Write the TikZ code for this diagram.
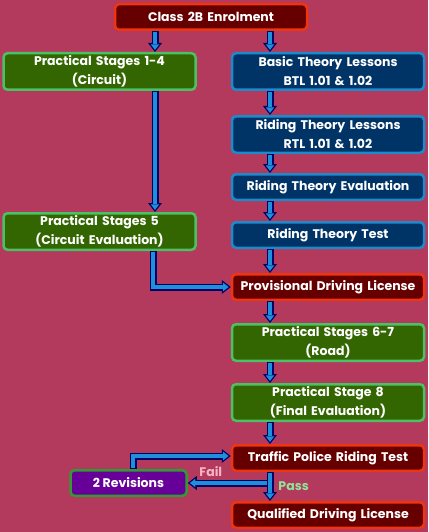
\documentclass[tikz,border=0pt]{standalone}
\usepackage{fontspec}
\setmainfont{Poppins}
\usepackage{tikz}
\usetikzlibrary{arrows.meta, positioning, calc}
\definecolor{PageRose}{HTML}{B33A5C}
\definecolor{LicenceRed}{HTML}{660000}
\definecolor{LicenceEdge}{HTML}{F03410}
\definecolor{StageGreen}{HTML}{336600}
\definecolor{StageEdge}{HTML}{4CC064}
\definecolor{TheoryBlue}{HTML}{003366}
\definecolor{TheoryEdge}{HTML}{1E8ACC}
\definecolor{RevPurple}{HTML}{660099}
\definecolor{RevEdge}{HTML}{339933}
\definecolor{ArrowFill}{HTML}{1E8FD8}
\definecolor{ArrowNavy}{HTML}{000066}
\definecolor{FailPink}{HTML}{F7B3C4}
\definecolor{PassGreen}{HTML}{8FE39A}

\begin{document}
\begin{tikzpicture}[font=\fontsize{12.5}{19}\selectfont\bfseries, every node/.style={text=white}]
    \tikzstyle{box} = [rectangle, rounded corners=4pt, line width=2.5pt, text width=186pt, inner xsep=3pt, inner ysep=1pt, align=center, minimum height=25.5pt]
    \tikzstyle{twoline} = [minimum height=36.5pt]
    \tikzstyle{licence} = [box, draw=LicenceEdge, fill=LicenceRed]
    \tikzstyle{stage} = [box, twoline, draw=StageEdge, fill=StageGreen]
    \tikzstyle{theory} = [box, draw=TheoryEdge, fill=TheoryBlue]
    \tikzstyle{revbox} = [rectangle, rounded corners=4pt, line width=2.5pt, draw=RevEdge, fill=RevPurple, minimum width=116pt, minimum height=25.5pt, inner ysep=1pt]
    \tikzstyle{flow} = [draw=ArrowFill, line width=4.3pt, line join=miter, shorten >=2.1pt, shorten <=1.2pt,
        -{Triangle[width=8.7pt, length=5.6pt, line width=0pt]},
        preaction={draw=ArrowNavy, line width=7pt, line join=miter, shorten >=0pt, shorten <=0pt,
        -{Triangle[width=14pt, length=9pt, line width=0pt]}}]

    % page
    \fill[PageRose] (0,0) rectangle (428pt,-532pt);
    \useasboundingbox (0,0) rectangle (428pt,-532pt);

    % arrow columns
    \coordinate (lx) at (155pt,0);
    \coordinate (rx) at (270pt,0);
    \coordinate (bx) at (153pt,0);
    \coordinate (vx) at (133pt,0);

    \node [licence, anchor=north] (enrol) at (211pt,-3pt) {Class 2B Enrolment};
    \node [theory, twoline, anchor=north] (basic) at (328pt,-52pt) {Basic Theory Lessons\\BTL 1.01 \& 1.02};
    \node [stage, left=34pt of basic] (p14) {Practical Stages 1-4\\(Circuit)};
    \node [theory, twoline, below=24pt of basic] (riding) {Riding Theory Lessons\\RTL 1.01 \& 1.02};
    \node [theory, below=19pt of riding] (eval) {Riding Theory Evaluation};
    \node [theory, below=20pt of eval] (test) {Riding Theory Test};
    \node [stage, below=121pt of p14] (p5) {Practical Stages 5\\(Circuit Evaluation)};
    \node [licence, below=24pt of test] (prov) {Provisional Driving License};
    \node [stage, below=22pt of prov] (p67) {Practical Stages 6-7\\(Road)};
    \node [stage, below=21pt of p67] (p8) {Practical Stage 8\\(Final Evaluation)};
    \node [licence, below=22pt of p8] (traffic) {Traffic Police Riding Test};
    \node [revbox, below left=-3pt and 43pt of traffic] (rev) {2 Revisions};
    \node [licence, below=29pt of traffic] (qual) {Qualified Driving License};

    \path [flow] (enrol.south -| lx) -- (p14.north -| lx);
    \path [flow] (enrol.south -| rx) -- (basic.north -| rx);
    \path [flow] (basic.south -| rx) -- (riding.north -| rx);
    \path [flow] (riding.south -| rx) -- (eval.north -| rx);
    \path [flow] (eval.south -| rx) -- (test.north -| rx);
    \path [flow] (test.south -| rx) -- (prov.north -| rx);
    \path [flow] (p14.south -| lx) -- (p5.north -| lx);
    \path [flow] (p5.south -| bx) |- (prov.west);
    \path [flow] (prov.south -| rx) -- (p67.north -| rx);
    \path [flow] (p67.south -| rx) -- (p8.north -| rx);
    \path [flow] (p8.south -| rx) -- (traffic.north -| rx);
    \path [flow] (rev.north -| vx) |- ([yshift=2pt]traffic.west);
    \path [flow] (traffic.south -| rx) |- node [pos=0.86, above=1pt, text=FailPink] {Fail} (rev.east);
    \path [flow] (traffic.south -| rx) -- node [right=3pt, text=PassGreen] {Pass} (qual.north -| rx);
\end{tikzpicture}
\end{document}
